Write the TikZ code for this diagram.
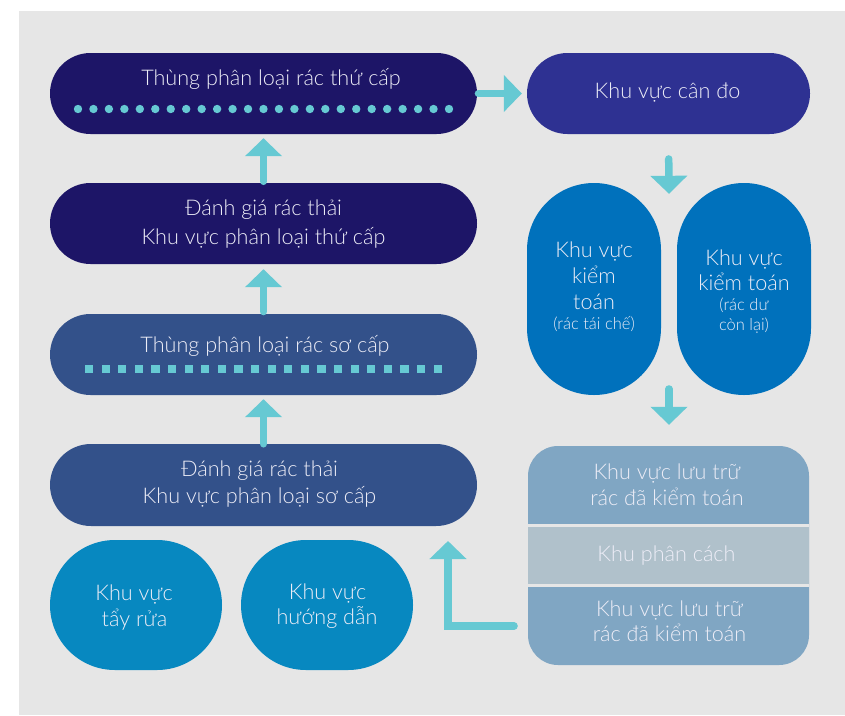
\documentclass[tikz,border=0pt]{standalone}
\usepackage{fontspec}
\setmainfont{Lato}[UprightFont=* Light]
\usetikzlibrary{arrows.meta,calc}
\definecolor{bg}{HTML}{E6E6E6}
\definecolor{navy}{HTML}{1D1567}
\definecolor{indigo}{HTML}{2E3192}
\definecolor{azure}{HTML}{0071BC}
\definecolor{slate}{HTML}{33518A}
\definecolor{steel}{HTML}{80A6C3}
\definecolor{mist}{HTML}{B0C1CB}
\definecolor{cerul}{HTML}{0788C0}
\definecolor{ac}{HTML}{66C9D3}
\definecolor{tc}{HTML}{EDEDF7}
\tikzset{
  shapebox/.style={rectangle, inner sep=0pt, draw=none},
  pill/.style={shapebox, minimum width=427pt, minimum height=81pt, rounded corners=40.5pt},
  txt/.style={text=tc, font=\fontsize{21.6}{26}\selectfont, anchor=base, inner sep=0pt},
  smalltxt/.style={txt, font=\fontsize{16.5}{20}\selectfont},
  arr/.style={draw=ac, line width=7.5pt, line cap=round, -{Triangle[length=18pt,width=36pt]}}
}
\begin{document}
\begin{tikzpicture}[x=1pt,y=-1pt]
\useasboundingbox (0,0) rectangle (845,715);
\fill[white] (0,0) rectangle (845,715);
\fill[bg] (19,11) rectangle (845,715);

% left column pills
\node[pill, fill=navy] (p1) at (263.5,93.5) {};
\node[pill, fill=navy] (p2) at (263.5,223.5) {};
\node[pill, fill=slate] (p3) at (263.5,354.5) {};
\node[pill, fill=slate, minimum height=82pt, rounded corners=41pt] (p4) at (263.5,485) {};

% right column
\node[shapebox, fill=indigo, minimum width=283pt, minimum height=81pt, rounded corners=40.5pt] (cando) at (668.5,93.5) {};
\node[shapebox, fill=azure, minimum width=134pt, minimum height=212pt, rounded corners=67pt] (ovL) at (594,289) {};
\node[shapebox, fill=azure, minimum width=134pt, minimum height=212pt, rounded corners=67pt] (ovR) at (744,289) {};

% storage block
\node[shapebox, fill=steel, minimum width=281pt, minimum height=219pt, rounded corners=30pt] (store) at (668.5,555.5) {};
\node[shapebox, minimum width=281pt, minimum height=78pt] (sTop) at (668.5,485) {};
\node[shapebox, fill=mist, minimum width=281pt, minimum height=60pt] (sMid) at (668.5,555.5) {};
\node[shapebox, minimum width=281pt, minimum height=78pt] (sBot) at (668.5,626) {};
\draw[bg, line width=3pt] (sMid.north west) -- (sMid.north east);
\draw[bg, line width=3pt] (sMid.south west) -- (sMid.south east);

% bottom ovals
\node[shapebox, fill=cerul, minimum width=172pt, minimum height=130pt, rounded corners=65pt] (ovA) at (136,605) {};
\node[shapebox, fill=cerul, minimum width=172pt, minimum height=130pt, rounded corners=65pt] (ovB) at (327,605) {};

% dots and squares
\foreach \i in {0,...,24} \fill[ac] ({78+\i*15.458},109) circle (4.2pt);
\foreach \i in {0,...,21} \fill[ac] ({89+\i*16.6-4.1},365.2) rectangle +(8.2,8.2);

% texts
\node[txt] (t1) at (271,85) {Thùng phân loại rác thứ cấp};
\node[txt] (t2a) at (263.5,215) {Đánh giá rác thải};
\node[txt] (t2b) at (263.5,244) {Khu vực phân loại thứ cấp};
\node[txt] (t3) at (265,352.7) {Thùng phân loại rác sơ cấp};
\node[txt] (t4a) at (259.5,476) {Đánh giá rác thải};
\node[txt] (t4b) at (259.5,503.3) {Khu vực phân loại sơ cấp};
\node[txt] (tc) at (667.5,98.3) {Khu vực cân đo};
\node[txt] (tLa) at (594,257.7) {Khu vực};
\node[txt] (tLb) at (594,283) {kiểm};
\node[txt] (tLc) at (594,309) {toán};
\node[smalltxt] (tLd) at (594,329) {(rác tái chế)};
\node[txt] (tRa) at (744,265) {Khu vực};
\node[txt] (tRb) at (744,290) {kiểm toán};
\node[smalltxt] (tRc) at (744,310) {(rác dư};
\node[smalltxt] (tRd) at (744,330) {còn lại)};
\node[txt] (tSa) at (667,479.3) {Khu vực lưu trữ};
\node[txt] (tSb) at (667,505) {rác đã kiểm toán};
\node[txt] (tSm) at (666.5,561.7) {Khu phân cách};
\node[txt] (tSc) at (669.5,616.7) {Khu vực lưu trữ};
\node[txt] (tSd) at (669.5,641.7) {rác đã kiểm toán};
\node[txt] (tAa) at (134,600) {Khu vực};
\node[txt] (tAb) at (134.5,626) {tẩy rửa};
\node[txt] (tBa) at (327.5,599.3) {Khu vực};
\node[txt] (tBb) at (327,624) {hướng dẫn};

% connectors
\draw[arr, shorten <=1.5pt, shorten >=4pt] (p2.north) -- (p1.south);
\draw[arr, shorten <=2.25pt, shorten >=5pt] (p3.north) -- (p2.south);
\draw[arr, shorten <=0pt, shorten >=4pt] (p4.north) -- (p3.south);
\draw[arr, shorten <=1.25pt, shorten >=5pt] (p1.east) -- (cando.west);
\coordinate (gap1) at ($(ovL.north)!0.5!(ovR.north)+(0,11)$);
\draw[arr, shorten <=24.75pt] (cando.south) -- (gap1);
\coordinate (gap2) at ($(ovL.south)!0.5!(ovR.south)+(0,-6.25)$);
\draw[arr, shorten >=21pt] (gap2) -- (gap2 |- store.north);
\coordinate (lTip) at (448,541);
\draw[arr, shorten <=13.75pt] (sBot.west) -| (lTip);
\end{tikzpicture}
\end{document}
